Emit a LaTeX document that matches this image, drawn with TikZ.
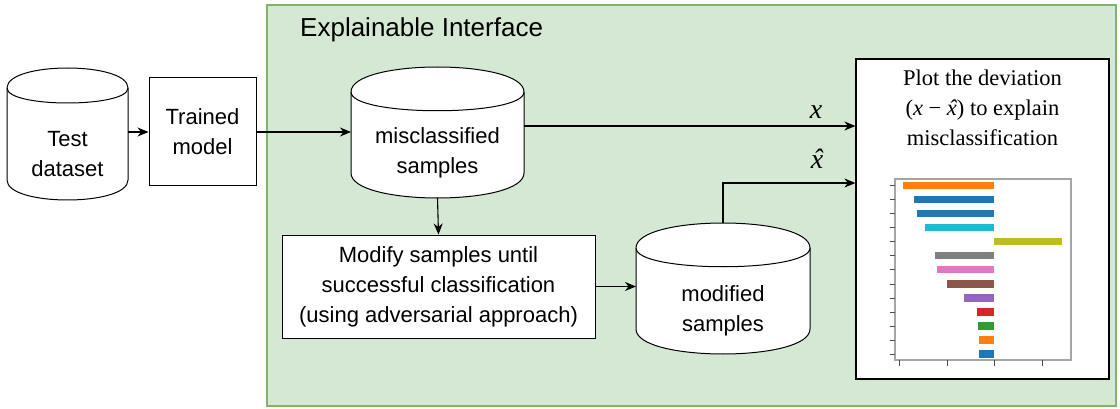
\documentclass[tikz,border=0pt]{standalone}
\usepackage{fontspec}
\setmainfont{Liberation Sans}
\newfontfamily\tnr{Liberation Serif}
\usetikzlibrary{arrows.meta,calc}
\definecolor{grfill}{HTML}{D5E8D4}
\definecolor{grline}{HTML}{82B366}
\definecolor{bOrange}{HTML}{FF7F0E}
\definecolor{bBlue}{HTML}{1F77B4}
\definecolor{bCyan}{HTML}{17BECF}
\definecolor{bOlive}{HTML}{BCBD22}
\definecolor{bGray}{HTML}{7F7F7F}
\definecolor{bPink}{HTML}{E377C2}
\definecolor{bBrown}{HTML}{8C564B}
\definecolor{bPurple}{HTML}{9467BD}
\definecolor{bRed}{HTML}{D62728}
\definecolor{bGreen}{HTML}{2CA02C}
\newcommand\myxhat{{\tnr\itshape\ooalign{x\cr\hidewidth\kern0.06em ˆ\hidewidth\cr}}}
\newcommand\cylshape[2]{%
  \filldraw[cylline] let \p1=(#1.north west), \p2=(#1.south east) in
    (\x1,\y1-#2pt) .. controls (\x1,\y1+#2pt/3) and (\x2,\y1+#2pt/3) .. (\x2,\y1-#2pt)
    -- (\x2,\y2+#2pt) .. controls (\x2,\y2-#2pt/3) and (\x1,\y2-#2pt/3) .. (\x1,\y2+#2pt) -- cycle;
  \draw[cylinner] let \p1=(#1.north west), \p2=(#1.south east) in
    (\x1,\y1-#2pt) .. controls (\x1,\y1-2*#2pt) and (\x2,\y1-2*#2pt) .. (\x2,\y1-#2pt);
}
\tikzset{
  cylbox/.style={inner sep=0pt, outer sep=0pt, draw=none},
  cylline/.style={draw=black, fill=white, line width=1pt},
  cylinner/.style={draw=black, line width=1pt},
  txt/.style={align=center, inner sep=0pt, font=\fontsize{22}{30}\selectfont},
  boxnode/.style={draw=black, fill=white, line width=1pt, align=center, inner sep=0pt, font=\fontsize{22}{30}\selectfont},
  arr/.style={line width=1.1pt, -{Stealth[length=11pt,width=9pt,inset=3.5pt]}},
  mathlab/.style={inner sep=0pt, font=\tnr\itshape\fontsize{28}{30}\selectfont},
  tickline/.style={draw=black!70, line width=0.8pt},
}
\begin{document}
\begin{tikzpicture}[x=1pt,y=-1pt]
\useasboundingbox (0,0) rectangle (1120,409);
% background panel
\node[draw=grline, fill=grfill, line width=1.3pt, minimum width=849pt, minimum height=401pt, inner sep=0pt] (iface) at (691.5,205.5) {};
\node[anchor=base west, inner sep=0pt, font=\fontsize{26}{30}\selectfont] (title) at (300,37) {Explainable Interface};
% cylinders
\node[cylbox, minimum width=121pt, minimum height=132pt] (test) at (67.5,134) {};
\cylshape{test}{20}
\node[txt] (testT) at (67.5,154) {Test\\dataset};
\node[cylbox, minimum width=173pt, minimum height=131pt] (miscl) at (437.5,132.5) {};
\cylshape{miscl}{25}
\node[txt] (misclT) at (437.5,153) {misclassified\\samples};
\node[cylbox, minimum width=174pt, minimum height=131pt] (modif) at (723,288.5) {};
\cylshape{modif}{25}
\node[txt] (modifT) at (723,311) {modified\\samples};
% boxes
\node[boxnode, minimum width=107pt, minimum height=108pt] (trained) at (202.5,132) {Trained\\model};
\node[boxnode, minimum width=313pt, minimum height=103pt] (modify) at (438.5,286.5) {Modify samples until\\successful classification\\(using adversarial approach)};
\node[draw=black, fill=white, line width=1.2pt, minimum width=253pt, minimum height=320pt, inner sep=0pt] (plot) at (982.5,219) {};
\node[align=center, inner sep=0pt, font=\tnr\fontsize{22.5}{30}\selectfont] (ptext) at (982.5,108) {Plot the deviation\\(\textit{x} − \myxhat) to explain\\misclassification};
% chart
\draw[draw=black!35, line width=1.3pt] (895,179) rectangle (1071,360);
\foreach \l/\r/\c [count=\i from 0] in {902.7/994/bOrange, 914/994/bBlue, 916.7/994/bBlue, 925.3/994/bCyan, 994/1062/bOlive, 935/994/bGray, 937.3/994/bPink, 946.7/994/bBrown, 963.7/994/bPurple, 976.7/994/bRed, 977.7/994/bGreen, 979.3/994/bOrange, 979.3/994/bBlue}{
  \fill[\c] (\l,{185.7+14.03*\i-3.6}) rectangle (\r,{185.7+14.03*\i+3.6});
  \draw[tickline] (890,{185.7+14.03*\i}) -- (895,{185.7+14.03*\i});
}
\foreach \xx in {899,947,994,1042}{\draw[tickline] (\xx,360) -- (\xx,366);}
% connectors
\coordinate (xrow) at (0,126);
\coordinate (xhrow) at (0,183);
\draw[arr] (test.east |- trained.west) -- (trained.west);
\draw[arr] (trained.east) -- (miscl.west |- trained.east);
\draw[arr] (miscl.east |- xrow) -- (plot.west |- xrow);
\draw[arr] (miscl.south) -- (modify.north);
\draw[arr] (modify.east) -- (modify.east -| modif.west);
\draw[arr] (modif.north) |- (plot.west |- xhrow);
\node[mathlab] (xlab) at (816,112) {x};
\node[mathlab] (xhlab) at (817,162) {\myxhat};
\end{tikzpicture}
\end{document}
